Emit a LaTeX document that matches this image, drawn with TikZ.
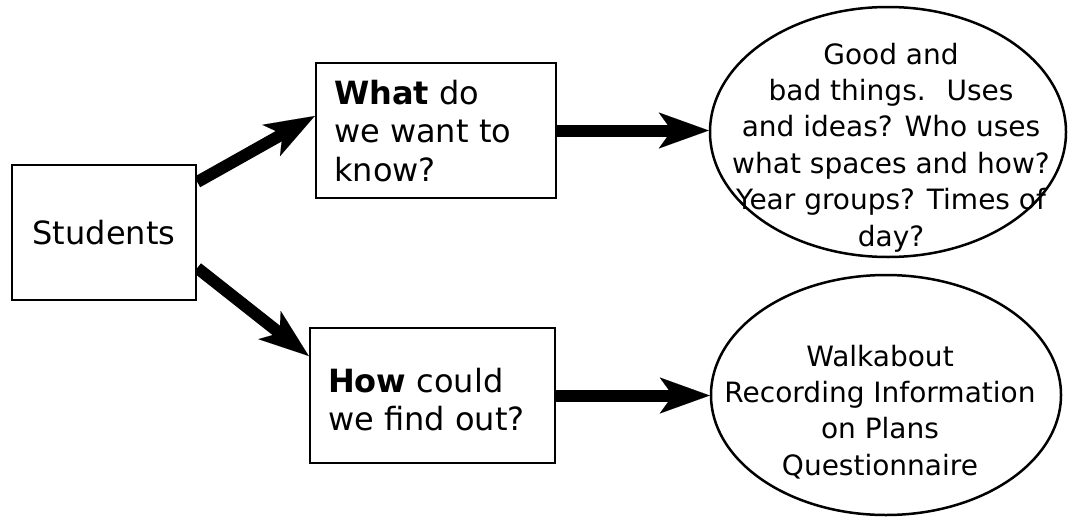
\documentclass[tikz,border=0pt]{standalone}
\usepackage{fontspec}
\setmainfont{DejaVu Sans}
\usetikzlibrary{arrows.meta,shapes.geometric}
\pgfdeclarelayer{bg}
\pgfsetlayers{bg,main}
\begin{document}
\begin{tikzpicture}[x=1pt,y=-1pt,
  boxnode/.style={draw=black,fill=white,line width=2.5pt,rectangle,inner sep=0pt},
  ovalnode/.style={draw=black,fill=white,line width=2.5pt,ellipse,inner sep=0pt},
  boxtext/.style={inner sep=0pt,align=left,anchor=north west,font=\fontsize{32}{38.5}\selectfont},
  ovaltext/.style={inner sep=0pt,align=center,anchor=north,font=\fontsize{28}{36.4}\selectfont},
  bigarrow/.style={line width=12pt,-{Stealth[length=50pt,width=36pt,inset=13pt,line width=0.01pt]}}]
\useasboundingbox (0,0) rectangle (1069,517);
\node[boxnode,minimum width=184pt,minimum height=135pt,font=\fontsize{32}{38.5}\selectfont] (stu) at (104,232.5) {Students};
\node[boxnode,minimum width=240pt,minimum height=135pt] (what) at (436,130.5) {};
\node[boxnode,minimum width=245pt,minimum height=135pt] (how) at (432.5,395.5) {};
\node[boxtext] (whatt) at (334,79.5) {\textbf{What} do\\we want to\\know?};
\node[boxtext] (howt) at (328,367.7) {\textbf{How} could\\we find out?};
\node[ovalnode,minimum width=356pt,minimum height=250pt] (good) at (888,132) {};
\node[ovaltext] (goodt) at (891,42.7) {Good and\\bad things.~ Uses\\and ideas? Who uses\\what spaces and how?\\Year groups? Times of\\day?};
\node[ovalnode,minimum width=350pt,minimum height=240pt] (walk) at (886,395) {};
\node[ovaltext] (walkt) at (880,344.7) {Walkabout\\Recording Information\\on Plans\\Questionnaire};
\begin{pgfonlayer}{bg}
\draw[bigarrow] (what.east) -- (what.east -| good.west);
\draw[bigarrow] (how.east) -- (how.east -| walk.west);
\draw[bigarrow] ([yshift=50.5pt]stu.east) -- ([yshift=14.5pt]what.west);
\draw[bigarrow] ([yshift=-35.5pt]stu.east) -- ([yshift=39.5pt]how.west);
\end{pgfonlayer}
\end{tikzpicture}
\end{document}
